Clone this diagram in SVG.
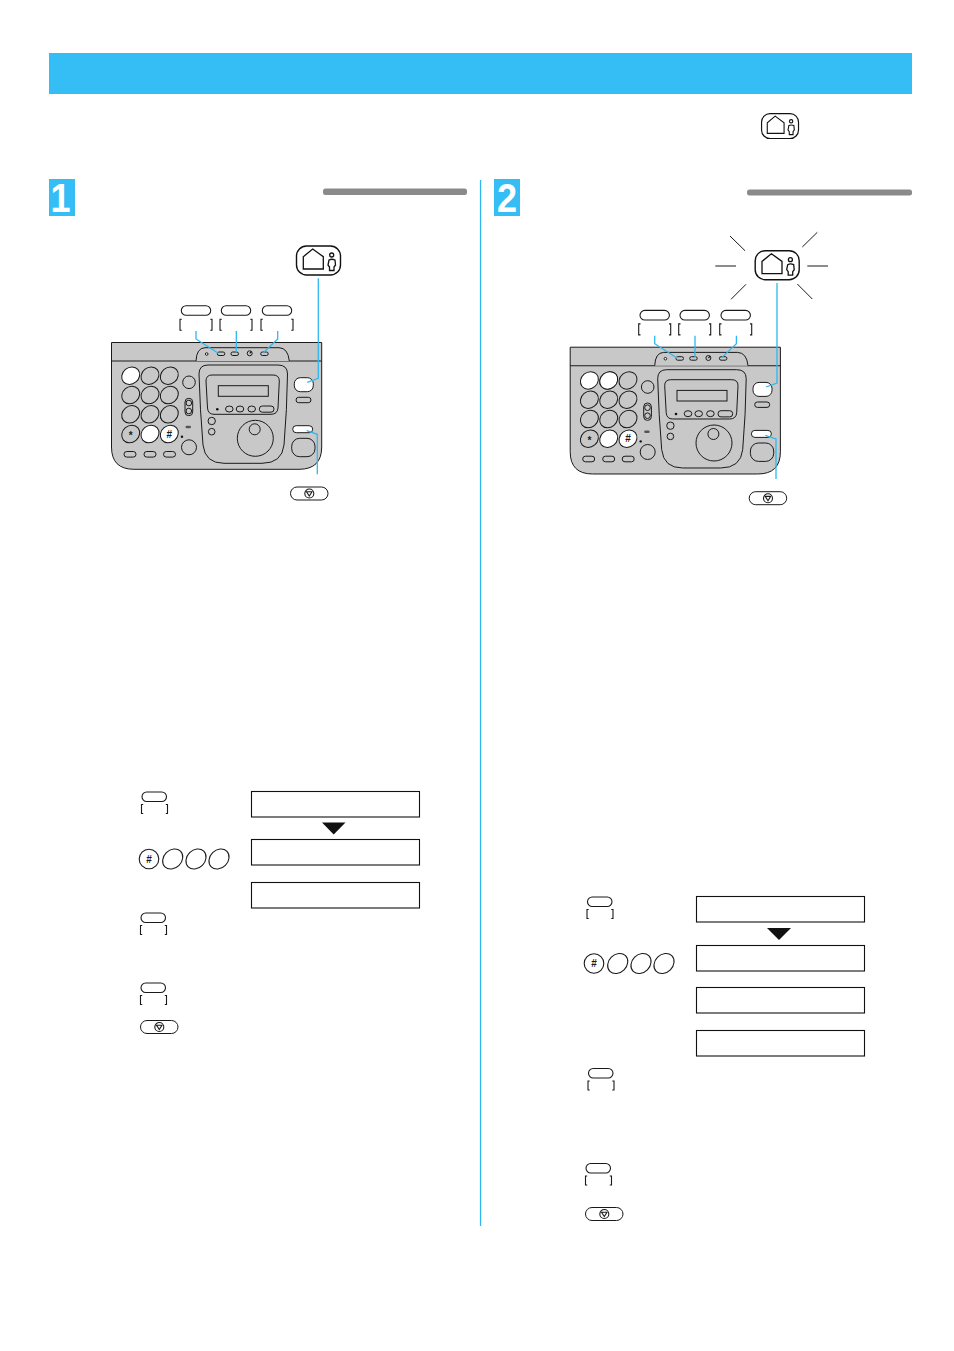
<svg xmlns="http://www.w3.org/2000/svg" width="954" height="1351" viewBox="0 0 954 1351">
<style>
.l{fill:none;stroke:#1a1a1a;stroke-width:1.1}
.k{fill:#c8c8c8;stroke:#1a1a1a;stroke-width:1}
.w{fill:#fff;stroke:#1a1a1a;stroke-width:1}
.b{fill:none;stroke:#2fb8f0;stroke-width:1.3}
.box{fill:#fff;stroke:#111;stroke-width:1.1}
.ray{stroke:#1a1a1a;stroke-width:1;fill:none}
.d{font-family:"Liberation Sans",Arial,sans-serif;font-weight:bold;font-size:40px;fill:#fff;text-anchor:middle}
.s{font-family:"Liberation Sans",Arial,sans-serif;font-weight:bold;font-size:10px;fill:#1a1a1a;text-anchor:middle}
.h{fill:#fff;stroke:#111;stroke-width:1.4}
.hl{fill:none;stroke:#111;stroke-width:1.3}
</style>
<defs>
<g id="home">
<rect x="296.500" y="246" width="44" height="29" rx="10" class="h"/>
<path d="M303.300 269V256.700L312.700 249L323.300 256.700V269Z" class="hl"/>
<circle cx="331.700" cy="255" r="2" class="hl"/>
<path d="M329 260Q331.700 258.500 335 260L335.500 265L334 267V270.500H329.500V267L328 265Z" class="hl"/>
</g>
<g id="stop">
<rect x="0.500" y="0.500" width="37.500" height="13" rx="6.500" class="w"/>
<circle cx="19.300" cy="7" r="4.500" class="l"/>
<path d="M16.500 5.200H22L19.300 9.500Z" class="l"/>
</g>
<g id="lab">
<rect x="1" y="0" width="24.500" height="9.500" rx="4.700" class="l"/>
<path d="M2.200 12.500H0.500V21.500H2.200M24.800 12.500H26.500V21.500H24.800" class="l"/>
</g>
<g id="lab-big">
<rect x="0" y="0" width="29.400" height="9.600" rx="4.800" class="l"/>
<path d="M0.500 13.500H-1.300V24.500H0.500M29 13.500H30.700V24.500H29" class="l"/>
</g>
<g id="keys">
<circle cx="10" cy="10" r="9.800" class="l"/>
<text x="10" y="13.500" class="s">#</text>
<ellipse cx="33.700" cy="10" rx="11" ry="9" transform="rotate(-45 33.700 10)" class="l"/>
<ellipse cx="57" cy="10" rx="11" ry="9" transform="rotate(-45 57 10)" class="l"/>
<ellipse cx="80" cy="10" rx="11" ry="9" transform="rotate(-45 80 10)" class="l"/>
</g>
<g id="phone">
<path d="M111.500 342.500H321.700V447Q321.700 469.300 299 469.300H134Q111.500 469.300 111.500 447Z" class="k"/>
<path d="M111.500 361H321.700" class="l"/>
<path d="M196 361Q196.500 348 205 347.700H279Q288 348 289.300 361" class="k"/>
<circle cx="206.700" cy="354" r="1.300" class="w"/>
<rect x="217.300" y="352" width="7.500" height="3.500" rx="1.700" class="k"/>
<rect x="231" y="352" width="7.500" height="3.500" rx="1.700" class="k"/>
<circle cx="249.700" cy="353.300" r="2.500" class="k"/>
<path d="M249.700 353.300L251.500 351.500" class="l"/>
<rect x="260.700" y="352" width="7.500" height="3.500" rx="1.700" class="k"/>
<ellipse cx="130.700" cy="375.700" rx="9.500" ry="8.200" transform="rotate(-40 130.700 375.700)" class="w"/>
<ellipse cx="150" cy="375.700" rx="9.500" ry="8.200" transform="rotate(-40 150 375.700)" class="k"/>
<ellipse cx="169.300" cy="375.700" rx="9.500" ry="8.200" transform="rotate(-40 169.300 375.700)" class="k"/>
<ellipse cx="130.700" cy="395" rx="9.500" ry="8.200" transform="rotate(-40 130.700 395)" class="k"/>
<ellipse cx="150" cy="395" rx="9.500" ry="8.200" transform="rotate(-40 150 395)" class="k"/>
<ellipse cx="169.300" cy="395" rx="9.500" ry="8.200" transform="rotate(-40 169.300 395)" class="k"/>
<ellipse cx="130.700" cy="414.300" rx="9.500" ry="8.200" transform="rotate(-40 130.700 414.300)" class="k"/>
<ellipse cx="150" cy="414.300" rx="9.500" ry="8.200" transform="rotate(-40 150 414.300)" class="k"/>
<ellipse cx="169.300" cy="414.300" rx="9.500" ry="8.200" transform="rotate(-40 169.300 414.300)" class="k"/>
<ellipse cx="130.700" cy="434" rx="9.500" ry="8.200" transform="rotate(-40 130.700 434)" class="k"/>
<text x="130.700" y="439" class="s" font-size="13">*</text>
<ellipse cx="150" cy="434" rx="9.500" ry="8.200" transform="rotate(-40 150 434)" class="w"/>
<ellipse cx="169.300" cy="434" rx="9.500" ry="8.200" transform="rotate(-40 169.300 434)" class="w"/>
<text x="169.300" y="437.500" class="s">#</text>
<circle cx="189" cy="382.300" r="6.300" class="k"/>
<circle cx="189" cy="447.300" r="7.500" class="k"/>
<rect x="185" y="398.300" width="7.700" height="17.400" rx="3.800" class="k"/>
<circle cx="188.800" cy="403" r="2.800" class="k"/>
<circle cx="188.800" cy="411" r="2.800" class="k"/>
<rect x="185.500" y="425.700" width="5.500" height="2.600" rx="1.300" fill="#555"/>
<circle cx="182" cy="436.700" r="1.200" fill="#111"/>
<rect x="124" y="451.500" width="12" height="5.600" rx="2.800" class="k"/>
<rect x="144" y="451.500" width="12" height="5.600" rx="2.800" class="k"/>
<rect x="163.500" y="451.500" width="12" height="5.600" rx="2.800" class="k"/>
<path d="M199 374Q199 365 208 365H278Q287.500 365 287.500 374Q287 410 284 445Q282 463.300 262 463.300H224Q205 463.300 203 445Q200 410 199 374Z" class="k"/>
<path d="M206 381Q206 375 212 375H273Q279.300 375 279.300 381L278 408Q277.500 414.300 271 414.300H214Q208 414.300 207.500 408Z" class="k"/>
<rect x="218.300" y="385.700" width="50" height="10.600" class="k"/>
<circle cx="217.300" cy="409.300" r="1.300" fill="#111"/>
<ellipse cx="229.300" cy="409" rx="3.800" ry="3" class="k"/>
<ellipse cx="240" cy="409" rx="3.800" ry="3" class="k"/>
<ellipse cx="251.700" cy="409" rx="3.800" ry="3" class="k"/>
<rect x="259.300" y="406" width="14.700" height="6.200" rx="3" class="k"/>
<circle cx="211.700" cy="421" r="3.700" class="k"/>
<circle cx="211.700" cy="431.700" r="3.300" class="k"/>
<circle cx="255.300" cy="438.300" r="18" class="k"/>
<circle cx="254.700" cy="429.300" r="5.500" class="k"/>
<rect x="294.300" y="377.700" width="19" height="14" rx="6" class="w"/>
<rect x="296" y="397.300" width="15" height="5.400" rx="2.700" class="k"/>
<rect x="292.700" y="425.700" width="20" height="7" rx="3.500" class="w"/>
<rect x="291.700" y="438.300" width="23.300" height="18.400" rx="8" class="k"/>
<use href="#lab-big" x="181.300" y="305.700"/>
<use href="#lab-big" x="221.300" y="305.700"/>
<use href="#lab-big" x="262.300" y="305.700"/>
</g>
<path id="conn" d="M196 331V339L218.300 353.300M236.300 331V352.300M277.700 331V339L263.300 352.700M318.300 278.300V378.300L307.300 382.300M317.300 474.300V434.300L306.700 430.700" class="b"/>
</defs>

<g id="header"><rect x="49" y="53" width="863" height="41" fill="#35bdf5"/></g>
<g id="top-icon"><use href="#home" transform="translate(512.500 -98) scale(.84 .86)"/></g>

<g id="divider"><rect x="479.900" y="180" width="1.300" height="1046" fill="#2fb8f0"/></g>

<g id="step1-badge"><rect x="49" y="179" width="26" height="37" fill="#35bdf5"/><text transform="translate(60.500 211.700) scale(.9 1)" class="d">1</text></g>
<g id="step1-bar"><rect x="323" y="188.500" width="144" height="6.500" rx="2.500" fill="#8a8a8a"/></g>
<g id="step2-badge"><rect x="494" y="179" width="26" height="37" fill="#35bdf5"/><text transform="translate(507 211.700) scale(.9 1)" class="d">2</text></g>
<g id="step2-bar"><rect x="747" y="189.500" width="165" height="6" rx="2.500" fill="#8a8a8a"/></g>

<g id="phone1"><use href="#phone"/><use href="#home"/><use href="#stop" x="290" y="486.500"/></g>
<g id="phone2" transform="translate(458.700 4.700)">
<use href="#phone"/>
<ellipse cx="150" cy="375.700" rx="9.500" ry="8.200" transform="rotate(-40 150 375.700)" class="w"/>
<use href="#home"/><use href="#stop" x="290" y="486.500"/>
</g>
<g id="rays">
<path d="M730 236L745 250.700M817.300 232.300L802.300 247M715.300 266H736M807.300 266H828M746 284.300L731 299.300M797.300 284L812.300 299" class="ray"/>
</g>

<g id="connectors">
<use href="#conn"/>
<use href="#conn" transform="translate(458.700 4.700)"/>
</g>

<g id="left-steps">
<use href="#lab" x="141" y="792"/>
<use href="#keys" x="139" y="849"/>
<use href="#lab" x="140" y="913"/>
<use href="#lab" x="140" y="983"/>
<use href="#stop" x="140" y="1020"/>
</g>
<g id="left-displays">
<rect x="251.500" y="791.500" width="168" height="25.500" class="box"/>
<path d="M322 822.500H345.500L333.700 834.500Z" fill="#111"/>
<rect x="251.500" y="839.500" width="168" height="25.500" class="box"/>
<rect x="251.500" y="882.500" width="168" height="25.500" class="box"/>
</g>
<g id="right-steps">
<use href="#lab" x="586.500" y="897"/>
<use href="#keys" x="584" y="953.500"/>
<use href="#lab" x="587.500" y="1068.500"/>
<use href="#lab" x="585" y="1163.500"/>
<use href="#stop" x="585" y="1207"/>
</g>
<g id="right-displays">
<rect x="696.500" y="896.500" width="168" height="25.500" class="box"/>
<path d="M767 928H791L779 940Z" fill="#111"/>
<rect x="696.500" y="945.500" width="168" height="25.500" class="box"/>
<rect x="696.500" y="987.500" width="168" height="25.500" class="box"/>
<rect x="696.500" y="1030.500" width="168" height="25.500" class="box"/>
</g>
</svg>
